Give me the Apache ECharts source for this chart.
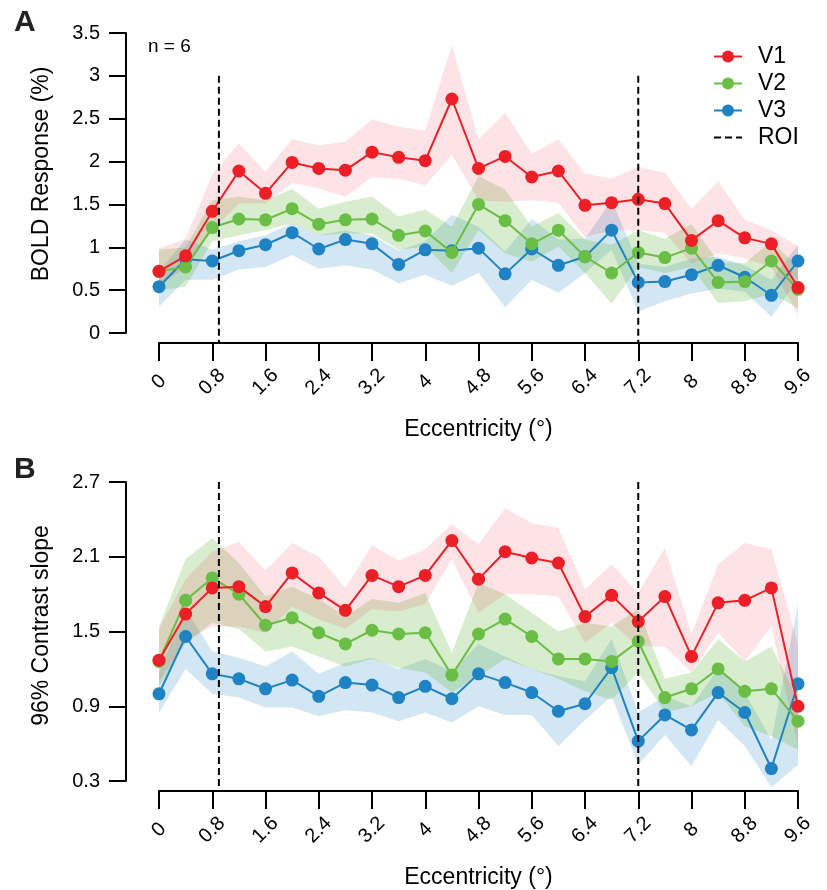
<!DOCTYPE html>
<html>
<head>
<meta charset="utf-8">
<script src="https://cdn.jsdelivr.net/npm/echarts@6/dist/echarts.min.js"></script>
<style>
  html, body { margin: 0; padding: 0; background: #fff; }
  #chart { width: 827px; height: 890px; }
</style>
</head>
<body>
<div id="chart"></div>
<script>
// eccentricity bins (deg)
var ecc = [0, 0.4, 0.8, 1.2, 1.6, 2, 2.4, 2.8, 3.2, 3.6, 4, 4.4, 4.8, 5.2, 5.6, 6, 6.4, 6.8, 7.2, 7.6, 8, 8.4, 8.8, 9.2, 9.6];
var xTicks = [0, 0.8, 1.6, 2.4, 3.2, 4, 4.8, 5.6, 6.4, 7.2, 8, 8.8, 9.6];
var yTicksA = [0, 0.5, 1, 1.5, 2, 2.5, 3, 3.5];
var yTicksB = [0.3, 0.9, 1.5, 2.1, 2.7];
var roiX = [0.9, 7.2];
var roiSpanA = [3.0, -0.12];
var roiSpanB = [2.7, 0.225];

// panel A : BOLD response (%)
var boldV1 = [0.72, 0.90, 1.42, 1.89, 1.63, 1.99, 1.92, 1.90, 2.11, 2.05, 2.01, 2.73, 1.92, 2.06, 1.82, 1.89, 1.49, 1.52, 1.56, 1.51, 1.08, 1.31, 1.11, 1.04, 0.53];
var boldV2 = [0.72, 0.77, 1.23, 1.33, 1.32, 1.45, 1.27, 1.32, 1.33, 1.14, 1.19, 0.94, 1.50, 1.31, 1.04, 1.20, 0.89, 0.70, 0.94, 0.88, 0.99, 0.59, 0.60, 0.84, 0.51];
var boldV3 = [0.54, 0.86, 0.84, 0.96, 1.03, 1.17, 0.98, 1.09, 1.04, 0.80, 0.97, 0.96, 0.99, 0.69, 0.98, 0.79, 0.89, 1.20, 0.59, 0.60, 0.68, 0.79, 0.65, 0.44, 0.84];
var boldV1Lo = [0.55, 0.76, 1.20, 1.51, 1.51, 1.75, 1.69, 1.59, 1.82, 1.80, 1.72, 2.08, 1.55, 1.53, 1.55, 1.52, 1.12, 1.20, 1.20, 1.17, 0.81, 0.93, 0.87, 0.77, 0.21];
var boldV1Hi = [0.99, 1.10, 1.85, 2.21, 1.88, 2.26, 2.19, 2.23, 2.49, 2.41, 2.36, 3.36, 2.26, 2.57, 2.09, 2.26, 1.86, 1.80, 1.94, 1.87, 1.45, 1.77, 1.32, 1.20, 1.01];
var boldV2Lo = [0.50, 0.54, 1.07, 1.14, 1.20, 1.28, 1.14, 1.16, 1.16, 0.97, 1.01, 0.70, 1.20, 0.93, 0.83, 1.01, 0.70, 0.34, 0.77, 0.70, 0.77, 0.35, 0.37, 0.46, 0.29];
var boldV2Hi = [0.97, 1.00, 1.55, 1.59, 1.55, 1.68, 1.45, 1.53, 1.59, 1.36, 1.44, 1.24, 1.83, 1.67, 1.24, 1.40, 1.09, 1.03, 1.20, 1.10, 1.27, 0.83, 0.81, 1.07, 0.77];
var boldV3Lo = [0.31, 0.62, 0.62, 0.74, 0.77, 0.91, 0.75, 0.79, 0.74, 0.58, 0.68, 0.55, 0.70, 0.30, 0.62, 0.47, 0.70, 0.97, 0.25, 0.37, 0.46, 0.52, 0.48, 0.19, 0.62];
var boldV3Hi = [0.72, 1.09, 0.97, 1.07, 1.14, 1.28, 1.14, 1.20, 1.14, 0.96, 1.07, 1.38, 1.24, 0.95, 1.33, 1.09, 1.10, 1.55, 0.81, 0.77, 0.87, 0.89, 0.79, 0.62, 1.03];

// panel B : 96% contrast slope
var slopeV1 = [1.27, 1.64, 1.85, 1.86, 1.70, 1.97, 1.81, 1.67, 1.95, 1.86, 1.95, 2.23, 1.92, 2.14, 2.09, 2.05, 1.62, 1.79, 1.58, 1.78, 1.30, 1.73, 1.75, 1.85, 0.90];
var slopeV2 = [1.26, 1.75, 1.93, 1.80, 1.55, 1.61, 1.49, 1.40, 1.51, 1.48, 1.49, 1.15, 1.48, 1.60, 1.46, 1.28, 1.28, 1.26, 1.42, 0.97, 1.04, 1.20, 1.02, 1.04, 0.78];
var slopeV3 = [1.00, 1.46, 1.16, 1.12, 1.04, 1.11, 0.98, 1.09, 1.07, 0.97, 1.06, 0.96, 1.16, 1.09, 1.01, 0.86, 0.92, 1.21, 0.62, 0.83, 0.71, 1.01, 0.85, 0.40, 1.08];
var slopeV1Lo = [1.10, 1.42, 1.54, 1.54, 1.49, 1.70, 1.60, 1.52, 1.68, 1.66, 1.72, 2.08, 1.65, 1.80, 1.80, 1.78, 1.41, 1.57, 1.38, 1.38, 1.17, 1.49, 1.26, 1.54, 0.58];
var slopeV1Hi = [1.52, 1.92, 2.14, 2.22, 1.99, 2.21, 2.10, 1.85, 2.19, 2.07, 2.16, 2.36, 2.20, 2.49, 2.37, 2.33, 1.84, 2.04, 1.81, 2.17, 1.48, 2.04, 2.21, 2.16, 1.40];
var slopeV2Lo = [1.06, 1.41, 1.57, 1.52, 1.34, 1.38, 1.30, 1.22, 1.28, 1.21, 1.17, 1.01, 1.14, 1.28, 1.20, 1.12, 1.02, 0.95, 1.17, 0.85, 0.90, 1.01, 0.74, 0.66, 0.55];
var slopeV2Hi = [1.54, 2.08, 2.25, 2.05, 1.78, 1.86, 1.76, 1.62, 1.76, 1.73, 1.81, 1.33, 1.89, 1.80, 1.65, 1.50, 1.57, 1.54, 1.68, 1.12, 1.17, 1.44, 1.26, 1.38, 0.95];
var slopeV3Lo = [0.85, 1.20, 1.00, 0.97, 0.89, 0.89, 0.82, 0.87, 0.85, 0.78, 0.85, 0.77, 0.90, 0.83, 0.83, 0.58, 0.79, 0.98, 0.43, 0.67, 0.42, 0.79, 0.58, 0.25, 0.43];
var slopeV3Hi = [1.17, 1.68, 1.34, 1.29, 1.22, 1.34, 1.16, 1.25, 1.29, 1.20, 1.28, 1.18, 1.40, 1.30, 1.20, 1.14, 1.10, 1.44, 0.85, 0.98, 0.90, 1.20, 1.01, 0.63, 1.72];

var RED = '#ED1F26', GREEN = '#6ABD45', BLUE = '#1F82C3';
var FONT = 'Liberation Sans, Arial, Helvetica, sans-serif';

function pts(ys) {
	return ecc.map(function (x, i) { return [x, ys[i]]; });
}

// shaded confidence band drawn as one polygon through the axis scales
function band(name, idx, lo, hi, fill) {
	return {
		type: 'custom', name: name, xAxisIndex: idx, yAxisIndex: idx,
		silent: true, z: 1, clip: false,
		itemStyle: { color: fill },
		data: ecc.map(function (x, i) { return [x, lo[i], hi[i]]; }),
		encode: { x: 0, y: [1, 2] },
		renderItem: function (params, api) {
			if (params.dataIndex !== 0) return null;
			var p = [];
			for (var i = 0; i < ecc.length; i++) p.push(api.coord([ecc[i], hi[i]]));
			for (var j = ecc.length - 1; j >= 0; j--) p.push(api.coord([ecc[j], lo[j]]));
			return { type: 'polygon', shape: { points: p }, style: { fill: fill } };
		}
	};
}

function line(name, idx, ys, color, z) {
	return {
		type: 'line', name: name, xAxisIndex: idx, yAxisIndex: idx,
		data: pts(ys), z: z, clip: false,
		symbol: 'circle', symbolSize: 13,
		lineStyle: { color: color, width: 2 },
		itemStyle: { color: color }
	};
}

function roi(idx, x, span) {
	return {
		type: 'line', name: 'ROI', xAxisIndex: idx, yAxisIndex: idx,
		data: [[x, span[0]], [x, span[1]]], z: 6, clip: false,
		symbol: 'none', silent: true,
		lineStyle: { color: '#000', width: 2, type: [7, 4] },
		itemStyle: { color: 'rgba(0,0,0,0)' }
	};
}

function xAxisFor(idx) {
	return {
		type: 'value', gridIndex: idx, min: 0, max: 9.6, offset: 10,
		name: 'Eccentricity (°)', nameLocation: 'middle', nameGap: 75,
		nameTextStyle: { fontSize: 23, fontFamily: FONT, color: '#000' },
		axisLine: { onZero: false, lineStyle: { color: '#000', width: 2 } },
		axisTick: { length: 18, lineStyle: { color: '#000', width: 2 }, customValues: xTicks },
		axisLabel: {
			rotate: 45, align: 'center', verticalAlign: 'middle', margin: 39,
			fontSize: 20, fontFamily: FONT, color: '#000', customValues: xTicks
		},
		splitLine: { show: false }
	};
}

function yAxisFor(idx, lo, hi, ticks, title, shift) {
	return {
		type: 'value', gridIndex: idx, min: lo, max: hi, offset: 33,
		name: title, nameLocation: 'middle', nameGap: 73,
		nameTextStyle: { fontSize: 23, fontFamily: FONT, color: '#000', padding: [0, 0, 0, shift] },
		axisLine: { show: true, onZero: false, lineStyle: { color: '#000', width: 2 } },
		axisTick: { show: true, length: 17, lineStyle: { color: '#000', width: 2 }, customValues: ticks },
		axisLabel: { margin: 26, fontSize: 20, fontFamily: FONT, color: '#000', customValues: ticks },
		splitLine: { show: false }
	};
}

var chart = echarts.init(document.getElementById('chart'), null, { renderer: 'canvas' });

var option = {
	animation: false,
	backgroundColor: '#fff',
	grid: [
		{ left: 159, width: 639, top: 33, height: 300 },
		{ left: 159, width: 639, top: 482, height: 300 }
	],
	xAxis: [xAxisFor(0), xAxisFor(1)],
	yAxis: [
		yAxisFor(0, 0, 3.5, yTicksA, 'BOLD Response (%)', 18),
		yAxisFor(1, 0.3, 2.7, yTicksB, '96% Contrast slope', 12)
	],
	legend: {
		orient: 'vertical', left: 713, top: 45, padding: 0,
		itemWidth: 28, itemHeight: 15, itemGap: 4,
		textStyle: { fontSize: 23, lineHeight: 23, fontFamily: FONT, color: '#000', padding: [0, 0, 0, 11] },
		data: ['V1', 'V2', 'V3', 'ROI']
	},
	graphic: [
		{ type: 'text', left: 14, top: 8, style: { text: 'A', font: 'bold 30px ' + FONT, fill: '#222' } },
		{ type: 'text', left: 14, top: 455, style: { text: 'B', font: 'bold 30px ' + FONT, fill: '#222' } },
		{ type: 'text', left: 148, top: 37, style: { text: 'n = 6', font: '19px ' + FONT, fill: '#000' } }
	],
	series: [
		band('V3 band A', 0, boldV3Lo, boldV3Hi, 'rgba(31,130,195,0.2)'),
		band('V2 band A', 0, boldV2Lo, boldV2Hi, 'rgba(106,189,69,0.27)'),
		band('V1 band A', 0, boldV1Lo, boldV1Hi, 'rgba(237,31,60,0.13)'),
		band('V3 band B', 1, slopeV3Lo, slopeV3Hi, 'rgba(31,130,195,0.2)'),
		band('V2 band B', 1, slopeV2Lo, slopeV2Hi, 'rgba(106,189,69,0.27)'),
		band('V1 band B', 1, slopeV1Lo, slopeV1Hi, 'rgba(237,31,60,0.13)'),
		roi(0, roiX[0], roiSpanA), roi(0, roiX[1], roiSpanA),
		roi(1, roiX[0], roiSpanB), roi(1, roiX[1], roiSpanB),
		line('V3', 0, boldV3, BLUE, 3),
		line('V2', 0, boldV2, GREEN, 4),
		line('V1', 0, boldV1, RED, 5),
		line('V3', 1, slopeV3, BLUE, 3),
		line('V2', 1, slopeV2, GREEN, 4),
		line('V1', 1, slopeV1, RED, 5)
	]
};

chart.setOption(option);
</script>
</body>
</html>
